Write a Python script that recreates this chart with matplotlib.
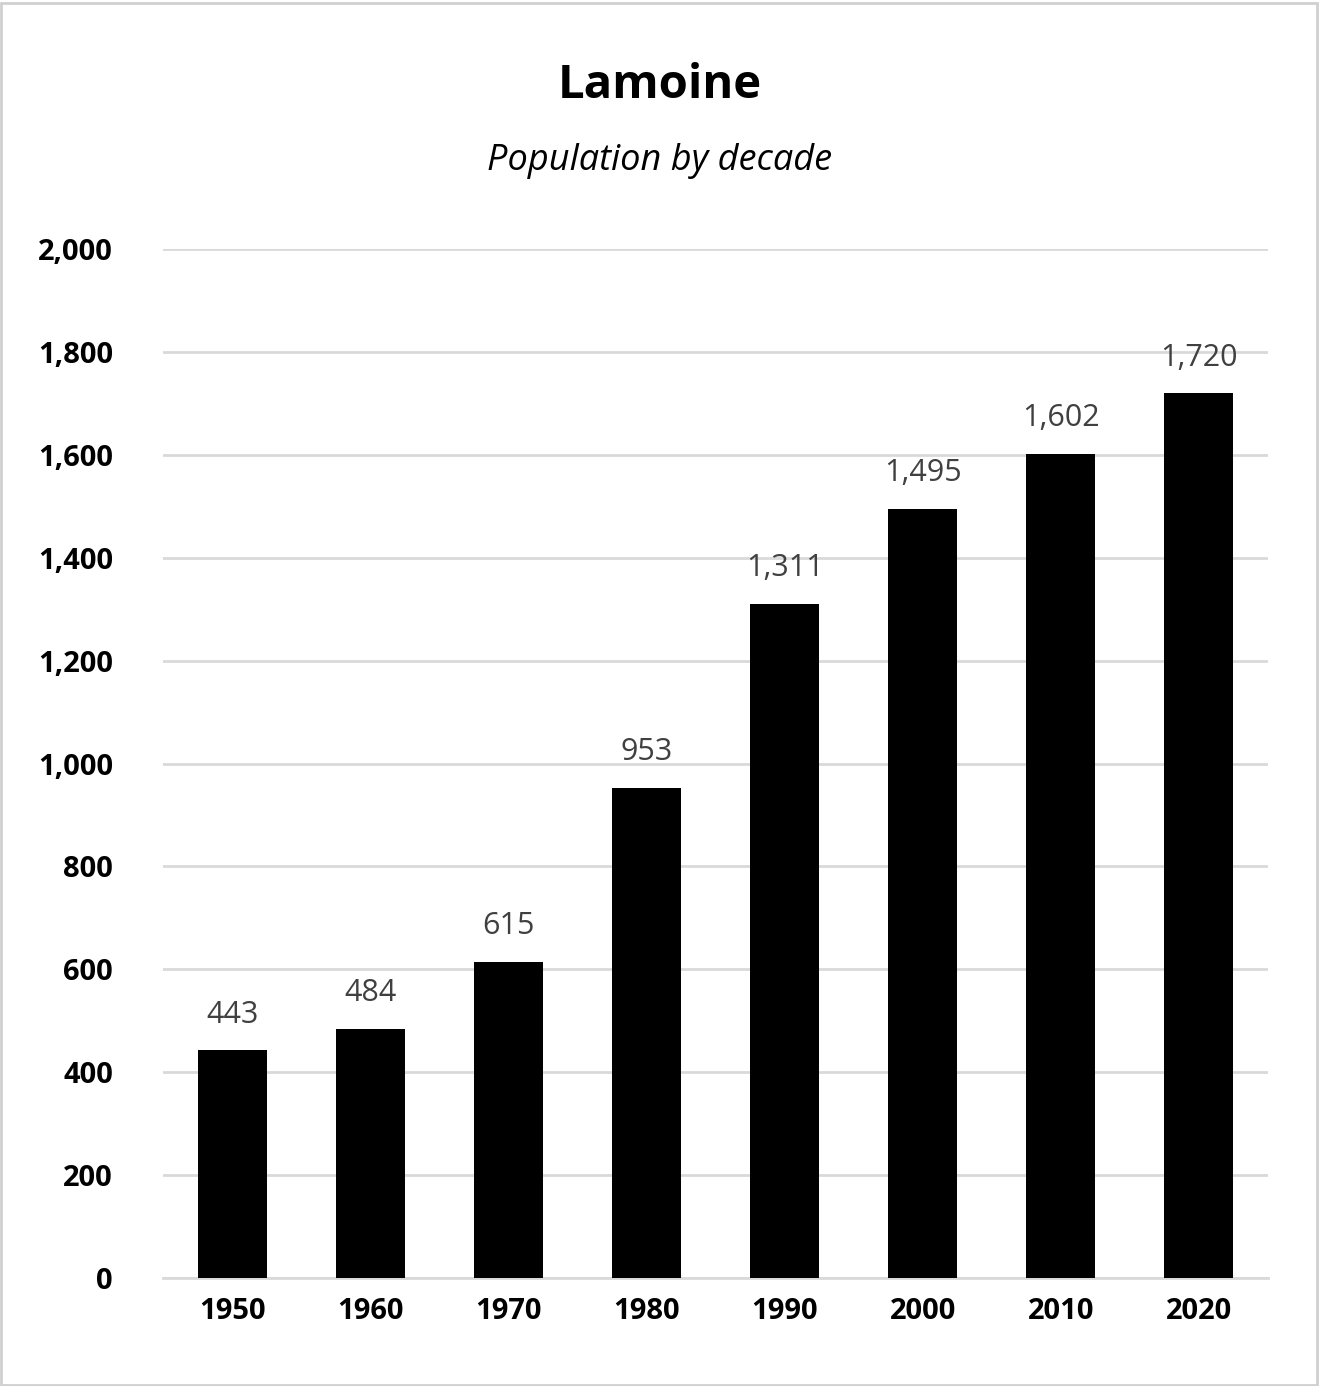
import matplotlib
matplotlib.use("Agg")
import matplotlib.pyplot as plt
from matplotlib.patches import Rectangle

years = ["1950", "1960", "1970", "1980", "1990", "2000", "2010", "2020"]
population = [443, 484, 615, 953, 1311, 1495, 1602, 1720]
yticks = [0, 200, 400, 600, 800, 1000, 1200, 1400, 1600, 1800, 2000]

plt.rcParams['font.family'] = ['Open Sans', 'DejaVu Sans']
fig = plt.figure(figsize=(13.2, 13.86), dpi=100)
fig.patches.append(Rectangle((0.001, 0.001), 0.997, 0.997, transform=fig.transFigure,
                             fill=False, edgecolor="#d0d0d0", linewidth=2))
ax = fig.add_axes([0.1235, 0.0779, 0.8371, 0.7424])
x = range(len(years))
ax.bar(x, population, width=0.5, color="black", zorder=3)
for i, v in zip(x, population):
    ax.text(i, v + 40, f"{v:,}", ha="center", va="bottom", fontsize=22, color="#404040")
ax.set_xlim(-0.5, len(years) - 0.5)
ax.set_ylim(0, 2000)
ax.set_yticks(yticks)
ax.set_yticklabels([f"{t:,}" for t in yticks], fontsize=21, fontweight="bold")
ax.set_xticks(list(x))
ax.set_xticklabels(years, fontsize=21, fontweight="bold")
ax.grid(axis="y", color="#d9d9d9", linewidth=2, zorder=0)
for s in ["top", "right", "left"]:
    ax.spines[s].set_visible(False)
ax.spines["bottom"].set_color("#d9d9d9")
ax.spines["bottom"].set_linewidth(2)
ax.tick_params(length=0, pad=14)
ax.tick_params(axis="y", pad=36)
fig.text(0.5, 0.938, "Lamoine", ha="center", va="center", fontsize=34, fontweight="bold")
fig.text(0.5, 0.884, "Population by decade", ha="center", va="center", fontsize=26, style="italic")
fig.savefig("out.png", dpi=100)
